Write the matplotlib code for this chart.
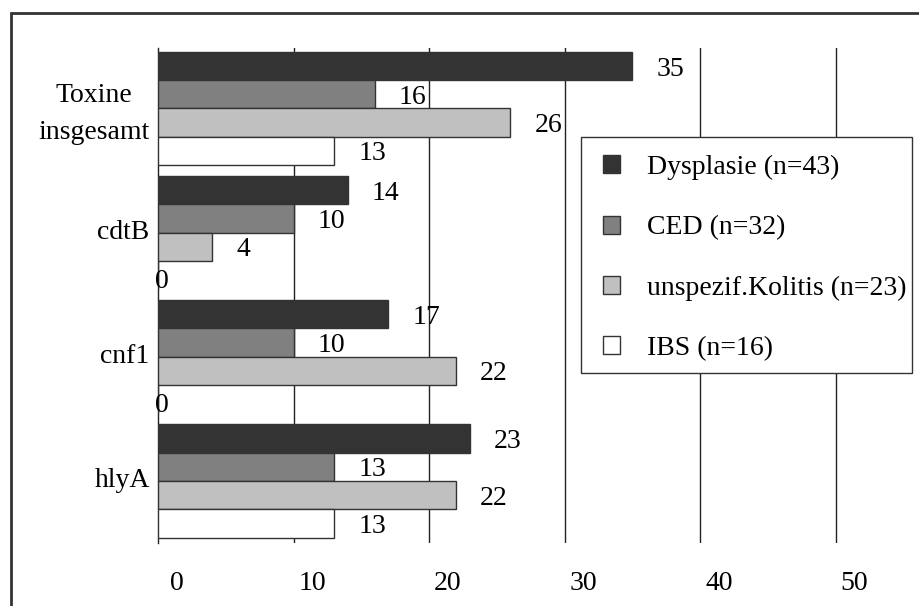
import numpy as np
import matplotlib
matplotlib.use("Agg")
import matplotlib.pyplot as plt
from matplotlib.patches import Rectangle
from matplotlib.transforms import ScaledTranslation

# Data
categories = ["Toxine\ninsgesamt", "cdtB", "cnf1", "hlyA"]
series_names = ["Dysplasie (n=43)", "CED (n=32)", "unspezif.Kolitis (n=23)", "IBS (n=16)"]
dysplasie = [35, 14, 17, 23]
ced = [16, 10, 10, 13]
kolitis = [26, 4, 22, 22]
ibs = [13, 0, 0, 13]
x_ticks = [0, 10, 20, 30, 40, 50]

colors = ["#333333", "#808080", "#c0c0c0", "#ffffff"]
edge = "#333333"
fs = 20

plt.rcParams["font.family"] = ["Liberation Serif", "DejaVu Serif"]
plt.rcParams["font.size"] = fs

W, H = 920, 606
fig = plt.figure(figsize=(W / 100, H / 100), dpi=100)

# axes placement in pixels
left_px, right_px, top_px, bot_px = 158, 862.6, 48, 543
ax = fig.add_axes([left_px / W, 1 - bot_px / H, (right_px - left_px) / W, (bot_px - top_px) / H])

# outer frame of the figure (right and bottom sides run off the picture)
fig.patches.append(Rectangle((11 / W, -0.2), 1.2, (1 - 13 / H) + 0.2, transform=fig.transFigure,
                             fill=False, lw=2, edgecolor="#333333", zorder=0))

y = np.arange(len(categories))
h = 0.228
all_series = [dysplasie, ced, kolitis, ibs]
for k, (vals, col, name) in enumerate(zip(all_series, colors, series_names)):
    pos = y + (k - 1.5) * h
    ax.barh(pos, vals, height=h, color=col, edgecolor=edge, linewidth=1, label=name, zorder=3)
    for p, v in zip(pos, vals):
        if v > 0:
            dx, dy = 24, -3
        else:
            dx, dy = -3, -6
        ax.annotate(str(v), (v, p), xytext=(dx, dy), textcoords="offset pixels",
                    ha="left", va="center", fontsize=fs, zorder=4)

ax.set_xlim(0, 52)
ax.set_ylim(3.5, -0.487)

for xv in x_ticks[1:]:
    ax.axvline(xv, color="#222222", lw=1, zorder=1)

for s in ["top", "right", "bottom"]:
    ax.spines[s].set_visible(False)
ax.spines["left"].set_color("#222222")
ax.spines["left"].set_linewidth(1)

ax.set_xticks(x_ticks)
ax.set_xticklabels([str(t) for t in x_ticks])
ax.tick_params(axis="x", length=0, pad=20, labelsize=fs)
off = ScaledTranslation(19 / 100, 0, fig.dpi_scale_trans)
for lab in ax.get_xticklabels():
    lab.set_transform(lab.get_transform() + off)

ax.set_yticks(y)
ax.set_yticklabels(categories, multialignment="center", linespacing=1.6)
ax.tick_params(axis="y", length=0, pad=6, labelsize=fs)
ylab_off = ScaledTranslation(0, 3 / 100, fig.dpi_scale_trans)
for lab in ax.get_yticklabels():
    lab.set_transform(lab.get_transform() + ylab_off)

# legend box drawn by hand so its size matches the reference
box = Rectangle((581 / W, 1 - 373 / H), (912 - 581) / W, (373 - 137) / H, transform=fig.transFigure,
                facecolor="white", edgecolor="#333333", lw=1, zorder=5)
fig.patches.append(box)

leg = fig.legend(*ax.get_legend_handles_labels(), loc="upper left",
                 bbox_to_anchor=(603 / W, 1 - 155 / H), bbox_transform=fig.transFigure,
                 borderaxespad=0, frameon=False,
                 handlelength=0.62, handleheight=0.62, handletextpad=0.97,
                 labelspacing=1.27, borderpad=0, fontsize=fs)
leg.set_zorder(6)

fig.savefig("out.png", dpi=100, facecolor="white")
